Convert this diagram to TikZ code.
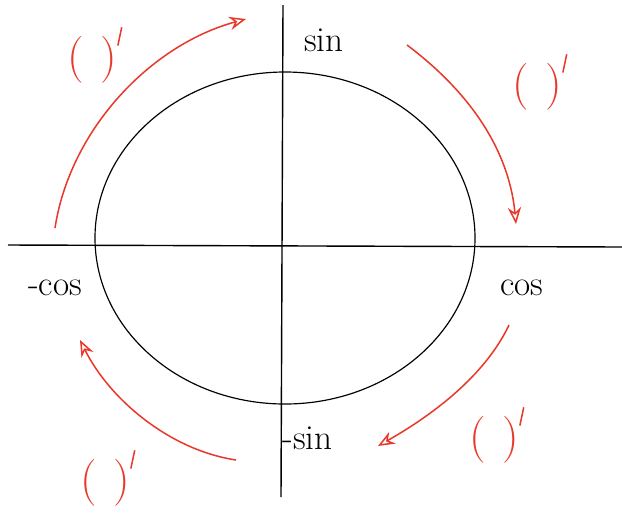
\documentclass[tikz,border=0pt]{standalone}
\usepackage{graphicx,tikz}
\usetikzlibrary{arrows.meta,positioning,calc}
\definecolor{pnred}{HTML}{E8392A}
\newcommand{\dprime}{(\hspace{0.35em})\raisebox{0.55em}{\rotatebox{-12}{\rule{1.3pt}{0.4em}}}}

\begin{document}
\begin{tikzpicture}[x=0.03cm,y=-0.03cm,
      axis/.style={line width=1.2pt,black},
      fn/.style={font=\fontsize{30}{34}\selectfont,inner sep=1pt},
      deriv/.style={text=pnred,font=\fontsize{40}{44}\selectfont,inner sep=0pt},
      arr/.style={-{Stealth[length=5mm,width=4mm,open]},line width=1.3pt,draw=pnred}]
    \useasboundingbox (0,0) rectangle (622,521);
    % axes
    \coordinate (xl) at (8,245);
    \coordinate (xr) at (622,247);
    \coordinate (yt) at (283,5);
    \coordinate (yb) at (281,497);
    \draw[axis] (xl) -- (xr);
    \draw[axis] (yt) -- (yb);
    \draw[line width=1pt] (285,238) ellipse [x radius=5.7cm,y radius=4.98cm];
    % function labels
    \node[fn] (sin) at (324,40) {sin};
    \node[fn] (cos) at (522,288) {cos};
    \node[fn] (mcos) at (55,288) {-cos};
    \node[fn,anchor=west] (msin) at (281,438) {-sin};
    % derivative arrows
    \coordinate (a1) at (55,228);  \coordinate (b1) at (246,19);
    \coordinate (a2) at (407,45);  \coordinate (b2) at (516,224);
    \coordinate (a3) at (509,325); \coordinate (b3) at (378,446);
    \coordinate (a4) at (236,460); \coordinate (b4) at (80,340);
    \draw[arr] (a1) .. controls (70,130) and (150,45) .. (b1);
    \draw[arr] (a2) .. controls (480,100) and (510,160) .. (b2);
    \draw[arr] (a3) .. controls (490,365) and (450,405) .. (b3);
    \draw[arr] (a4) .. controls (170,450) and (110,400) .. (b4);
    \node[deriv] (d1) at (95,55) {\dprime};
    \node[deriv] (d2) at (540,82) {\dprime};
    \node[deriv] (d3) at (497,435) {\dprime};
    \node[deriv] (d4) at (108,478) {\dprime};
  \end{tikzpicture}
\end{document}
